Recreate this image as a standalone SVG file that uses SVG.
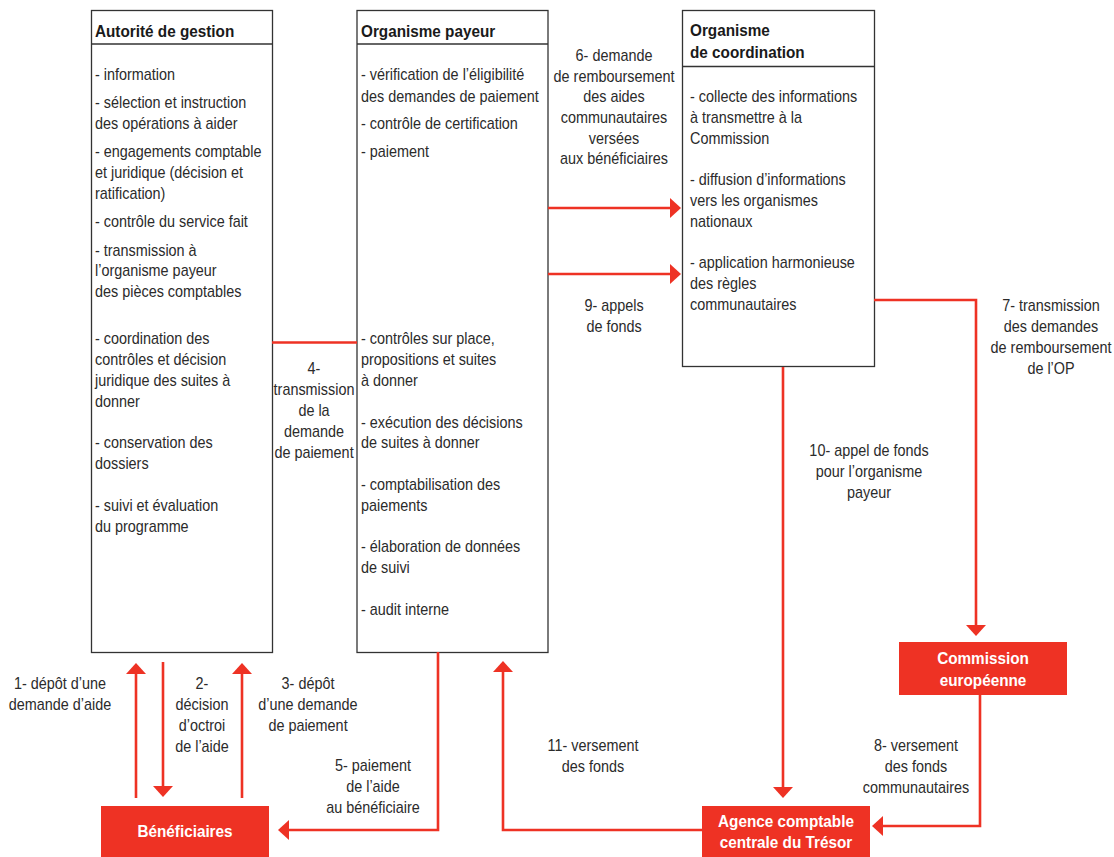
<svg xmlns="http://www.w3.org/2000/svg" width="1114" height="857" viewBox="0 0 1114 857">
<style>
.box{fill:#fff;stroke:#333;stroke-width:1.3}
.sep{stroke:#333;stroke-width:1.3}
.t{font-family:"Liberation Sans",Arial,sans-serif;font-size:16px;fill:#2b2b2b}
.h{font-family:"Liberation Sans",Arial,sans-serif;font-size:17px;font-weight:bold;fill:#1a1a1a}
.red{fill:#ee3224}
.w{font-family:"Liberation Sans",Arial,sans-serif;font-size:17px;font-weight:bold;fill:#fff;text-anchor:middle}
.m{text-anchor:middle}
.con{fill:none;stroke:#ee3224;stroke-width:2.6}
</style>
<defs>
<marker id="ah" markerUnits="userSpaceOnUse" markerWidth="12" markerHeight="20" refX="1" refY="10" orient="auto" viewBox="0 0 12 20">
<path d="M0,0 L11,10 L0,20 z" fill="#ee3224"/>
</marker>
</defs>

<g id="autorite-gestion">
<rect class="box" x="91.5" y="10.5" width="181" height="642"/>
<line class="sep" x1="91.5" y1="44" x2="272.5" y2="44"/>
<g transform="translate(95,0) scale(0.9,1)">
<text class="h" x="0" y="37">Autorité de gestion</text>
<text class="t" x="0" y="80">- information</text>
<text class="t" x="0" y="108">- sélection et instruction</text>
<text class="t" x="0" y="129">des opérations à aider</text>
<text class="t" x="0" y="157">- engagements comptable</text>
<text class="t" x="0" y="178">et juridique (décision et</text>
<text class="t" x="0" y="199">ratification)</text>
<text class="t" x="0" y="227">- contrôle du service fait</text>
<text class="t" x="0" y="256">- transmission à</text>
<text class="t" x="0" y="276">l’organisme payeur</text>
<text class="t" x="0" y="297">des pièces comptables</text>
<text class="t" x="0" y="344">- coordination des</text>
<text class="t" x="0" y="365">contrôles et décision</text>
<text class="t" x="0" y="386">juridique des suites à</text>
<text class="t" x="0" y="407">donner</text>
<text class="t" x="0" y="448">- conservation des</text>
<text class="t" x="0" y="469">dossiers</text>
<text class="t" x="0" y="511">- suivi et évaluation</text>
<text class="t" x="0" y="532">du programme</text>
</g>
</g>

<g id="organisme-payeur">
<rect class="box" x="357" y="10.5" width="191" height="642"/>
<line class="sep" x1="357" y1="44" x2="548" y2="44"/>
<g transform="translate(361,0) scale(0.9,1)">
<text class="h" x="0" y="37">Organisme payeur</text>
<text class="t" x="0" y="80">- vérification de l’éligibilité</text>
<text class="t" x="0" y="102">des demandes de paiement</text>
<text class="t" x="0" y="129">- contrôle de certification</text>
<text class="t" x="0" y="157">- paiement</text>
<text class="t" x="0" y="344">- contrôles sur place,</text>
<text class="t" x="0" y="365">propositions et suites</text>
<text class="t" x="0" y="386">à donner</text>
<text class="t" x="0" y="428">- exécution des décisions</text>
<text class="t" x="0" y="448">de suites à donner</text>
<text class="t" x="0" y="490">- comptabilisation des</text>
<text class="t" x="0" y="511">paiements</text>
<text class="t" x="0" y="552">- élaboration de données</text>
<text class="t" x="0" y="573">de suivi</text>
<text class="t" x="0" y="615">- audit interne</text>
</g>
</g>

<g id="organisme-coordination">
<rect class="box" x="682.5" y="10.5" width="192" height="356"/>
<line class="sep" x1="682.5" y1="66.5" x2="874.5" y2="66.5"/>
<g transform="translate(690,0) scale(0.9,1)">
<text class="h" x="0" y="36">Organisme</text>
<text class="h" x="0" y="58">de coordination</text>
<text class="t" x="0" y="102">- collecte des informations</text>
<text class="t" x="0" y="123">à transmettre à la</text>
<text class="t" x="0" y="144">Commission</text>
<text class="t" x="0" y="185">- diffusion d’informations</text>
<text class="t" x="0" y="206">vers les organismes</text>
<text class="t" x="0" y="227">nationaux</text>
<text class="t" x="0" y="268">- application harmonieuse</text>
<text class="t" x="0" y="289">des règles</text>
<text class="t" x="0" y="310">communautaires</text>
</g>
</g>

<g id="beneficiaires">
<rect class="red" x="101" y="806" width="168" height="51"/>
<g transform="translate(185,0) scale(0.9,1)">
<text class="w" x="0" y="837">Bénéficiaires</text>
</g>
</g>

<g id="agence-comptable">
<rect class="red" x="702" y="806" width="168" height="51"/>
<g transform="translate(786,0) scale(0.9,1)">
<text class="w" x="0" y="827">Agence comptable</text>
<text class="w" x="0" y="848">centrale du Trésor</text>
</g>
</g>

<g id="commission-europeenne">
<rect class="red" x="899" y="642" width="168" height="53"/>
<g transform="translate(983,0) scale(0.9,1)">
<text class="w" x="0" y="664">Commission</text>
<text class="w" x="0" y="686">européenne</text>
</g>
</g>

<g id="connectors">
<path class="con" d="M136,798 V673" marker-end="url(#ah)"/>
<path class="con" d="M163,662 V787" marker-end="url(#ah)"/>
<path class="con" d="M242,798 V673" marker-end="url(#ah)"/>
<path class="con" d="M272,342.5 H357"/>
<path class="con" d="M438,652 V830 H288" marker-end="url(#ah)"/>
<path class="con" d="M548,208 H671" marker-end="url(#ah)"/>
<path class="con" d="M548,274 H671" marker-end="url(#ah)"/>
<path class="con" d="M874,300 H976 V626" marker-end="url(#ah)"/>
<path class="con" d="M980,695 V826 H882" marker-end="url(#ah)"/>
<path class="con" d="M783,367 V788" marker-end="url(#ah)"/>
<path class="con" d="M702,830 H503 V671" marker-end="url(#ah)"/>
</g>

<g id="labels">
<g transform="translate(60,0) scale(0.9,1)">
<text class="t m" x="0" y="689">1- dépôt d’une</text>
<text class="t m" x="0" y="710">demande d’aide</text>
</g>
<g transform="translate(202,0) scale(0.9,1)">
<text class="t m" x="0" y="689">2-</text>
<text class="t m" x="0" y="710">décision</text>
<text class="t m" x="0" y="731">d’octroi</text>
<text class="t m" x="0" y="752">de l’aide</text>
</g>
<g transform="translate(308,0) scale(0.9,1)">
<text class="t m" x="0" y="689">3- dépôt</text>
<text class="t m" x="0" y="710">d’une demande</text>
<text class="t m" x="0" y="731">de paiement</text>
</g>
<g transform="translate(314,0) scale(0.9,1)">
<text class="t m" x="0" y="374">4-</text>
<text class="t m" x="0" y="395">transmission</text>
<text class="t m" x="0" y="416">de la</text>
<text class="t m" x="0" y="437">demande</text>
<text class="t m" x="0" y="458">de paiement</text>
</g>
<g transform="translate(373,0) scale(0.9,1)">
<text class="t m" x="0" y="771">5- paiement</text>
<text class="t m" x="0" y="792">de l’aide</text>
<text class="t m" x="0" y="813">au bénéficiaire</text>
</g>
<g transform="translate(614,0) scale(0.9,1)">
<text class="t m" x="0" y="61">6- demande</text>
<text class="t m" x="0" y="82">de remboursement</text>
<text class="t m" x="0" y="102">des aides</text>
<text class="t m" x="0" y="123">communautaires</text>
<text class="t m" x="0" y="144">versées</text>
<text class="t m" x="0" y="164">aux bénéficiaires</text>
</g>
<g transform="translate(1051,0) scale(0.9,1)">
<text class="t m" x="0" y="311">7- transmission</text>
<text class="t m" x="0" y="332">des demandes</text>
<text class="t m" x="0" y="353">de remboursement</text>
<text class="t m" x="0" y="374">de l’OP</text>
</g>
<g transform="translate(916,0) scale(0.9,1)">
<text class="t m" x="0" y="751">8- versement</text>
<text class="t m" x="0" y="772">des fonds</text>
<text class="t m" x="0" y="793">communautaires</text>
</g>
<g transform="translate(614,0) scale(0.9,1)">
<text class="t m" x="0" y="311">9- appels</text>
<text class="t m" x="0" y="332">de fonds</text>
</g>
<g transform="translate(869,0) scale(0.9,1)">
<text class="t m" x="0" y="456">10- appel de fonds</text>
<text class="t m" x="0" y="477">pour l’organisme</text>
<text class="t m" x="0" y="498">payeur</text>
</g>
<g transform="translate(593,0) scale(0.9,1)">
<text class="t m" x="0" y="751">11- versement</text>
<text class="t m" x="0" y="772">des fonds</text>
</g>
</g>
</svg>
